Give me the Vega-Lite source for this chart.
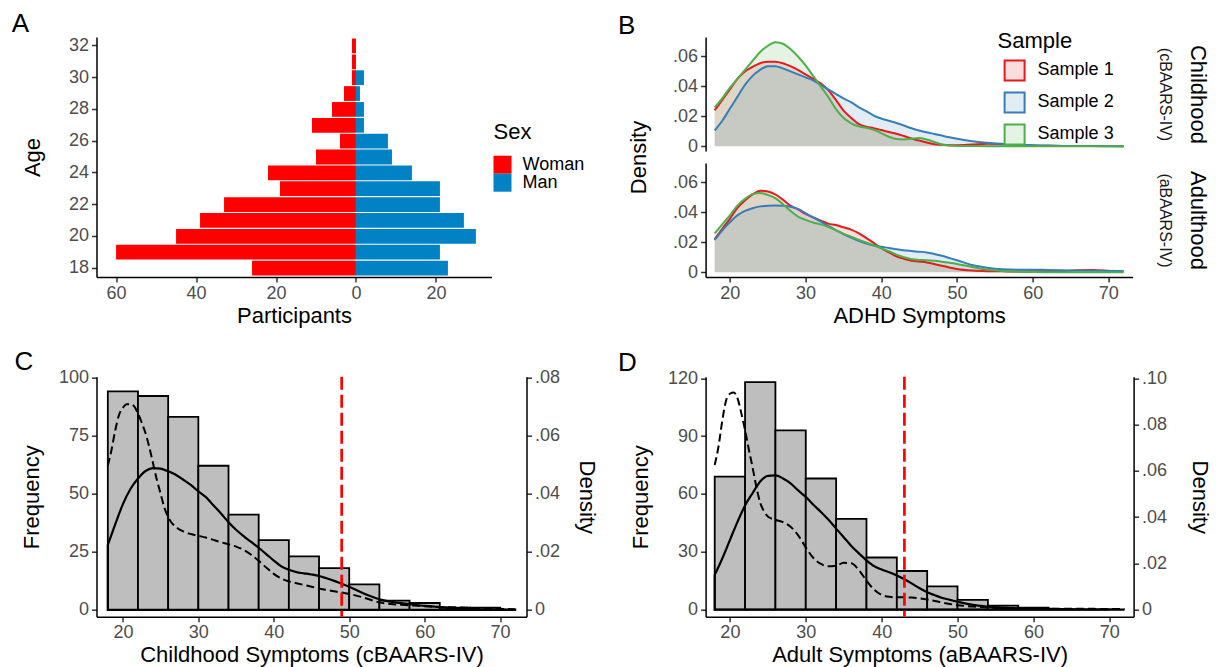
{
"$schema": "https://vega.github.io/schema/vega-lite/v6.json",
"padding": {"left": 11.5, "top": 11, "right": 5, "bottom": 5},
"config": {
  "font": "Liberation Sans",
  "view": {"stroke": null},
  "axis": {"domainColor": "#000000", "domainWidth": 1.5, "tickColor": "#333333", "tickWidth": 1.5, "tickSize": 5, "labelColor": "#4D4D4D", "labelFontSize": 18, "labelPadding": 3, "titleFontSize": 22, "titleFontWeight": "normal", "titleColor": "#000000", "grid": false, "labelFlush": false, "labelOverlap": false},
  "title": {"fontSize": 26, "fontWeight": "normal", "anchor": "start", "frame": "group", "baseline": "alphabetic", "offset": -1, "color": "#000000"},
  "legend": {"padding": 0, "titleFontWeight": "normal", "titleColor": "#000000", "labelColor": "#000000"}
},
"columns": 2,
"spacing": {"row": 99.7, "column": 179.1},
"bounds": "flush",
"resolve": {"scale": {"color": "independent", "fill": "independent", "stroke": "independent"}, "legend": {"color": "independent", "fill": "independent", "stroke": "independent"}},
"datasets": {
  "pop": [
    {"Age": 18, "Sex": "Woman", "Participants": -26}, {"Age": 19, "Sex": "Woman", "Participants": -60}, {"Age": 20, "Sex": "Woman", "Participants": -45}, {"Age": 21, "Sex": "Woman", "Participants": -39}, {"Age": 22, "Sex": "Woman", "Participants": -33}, {"Age": 23, "Sex": "Woman", "Participants": -19}, {"Age": 24, "Sex": "Woman", "Participants": -22}, {"Age": 25, "Sex": "Woman", "Participants": -10}, {"Age": 26, "Sex": "Woman", "Participants": -4}, {"Age": 27, "Sex": "Woman", "Participants": -11}, {"Age": 28, "Sex": "Woman", "Participants": -6}, {"Age": 29, "Sex": "Woman", "Participants": -3}, {"Age": 30, "Sex": "Woman", "Participants": -1}, {"Age": 31, "Sex": "Woman", "Participants": -1}, {"Age": 32, "Sex": "Woman", "Participants": -1},
    {"Age": 18, "Sex": "Man", "Participants": 23}, {"Age": 19, "Sex": "Man", "Participants": 21}, {"Age": 20, "Sex": "Man", "Participants": 30}, {"Age": 21, "Sex": "Man", "Participants": 27}, {"Age": 22, "Sex": "Man", "Participants": 21}, {"Age": 23, "Sex": "Man", "Participants": 21}, {"Age": 24, "Sex": "Man", "Participants": 14}, {"Age": 25, "Sex": "Man", "Participants": 9}, {"Age": 26, "Sex": "Man", "Participants": 8}, {"Age": 27, "Sex": "Man", "Participants": 2}, {"Age": 28, "Sex": "Man", "Participants": 2}, {"Age": 29, "Sex": "Man", "Participants": 1}, {"Age": 30, "Sex": "Man", "Participants": 2}, {"Age": 31, "Sex": "Man", "Participants": 0}, {"Age": 32, "Sex": "Man", "Participants": 0}
  ],
  "histC": [
    {"BinStart": 18, "BinEnd": 22, "Count": 94}, {"BinStart": 22, "BinEnd": 26, "Count": 92}, {"BinStart": 26, "BinEnd": 30, "Count": 83}, {"BinStart": 30, "BinEnd": 34, "Count": 62}, {"BinStart": 34, "BinEnd": 38, "Count": 41}, {"BinStart": 38, "BinEnd": 42, "Count": 30}, {"BinStart": 42, "BinEnd": 46, "Count": 23}, {"BinStart": 46, "BinEnd": 50, "Count": 18}, {"BinStart": 50, "BinEnd": 54, "Count": 11}, {"BinStart": 54, "BinEnd": 58, "Count": 4}, {"BinStart": 58, "BinEnd": 62, "Count": 3}, {"BinStart": 62, "BinEnd": 66, "Count": 1}, {"BinStart": 66, "BinEnd": 70, "Count": 1}
  ],
  "histD": [
    {"BinStart": 18, "BinEnd": 22, "Count": 69}, {"BinStart": 22, "BinEnd": 26, "Count": 118}, {"BinStart": 26, "BinEnd": 30, "Count": 93}, {"BinStart": 30, "BinEnd": 34, "Count": 68}, {"BinStart": 34, "BinEnd": 38, "Count": 47}, {"BinStart": 38, "BinEnd": 42, "Count": 27}, {"BinStart": 42, "BinEnd": 46, "Count": 20}, {"BinStart": 46, "BinEnd": 50, "Count": 12}, {"BinStart": 50, "BinEnd": 54, "Count": 5}, {"BinStart": 54, "BinEnd": 58, "Count": 2}, {"BinStart": 58, "BinEnd": 62, "Count": 1}, {"BinStart": 62, "BinEnd": 66, "Count": 0}, {"BinStart": 66, "BinEnd": 70, "Count": 0}
  ],
  "densC": [
    {"Curve": "Solid", "Symptoms": 18, "Density": 0.0224}, {"Curve": "Solid", "Symptoms": 19, "Density": 0.0296}, {"Curve": "Solid", "Symptoms": 20, "Density": 0.0364}, {"Curve": "Solid", "Symptoms": 21, "Density": 0.0416}, {"Curve": "Solid", "Symptoms": 22, "Density": 0.0452}, {"Curve": "Solid", "Symptoms": 23, "Density": 0.0478}, {"Curve": "Solid", "Symptoms": 24, "Density": 0.0488}, {"Curve": "Solid", "Symptoms": 25, "Density": 0.0486}, {"Curve": "Solid", "Symptoms": 26, "Density": 0.0477}, {"Curve": "Solid", "Symptoms": 27, "Density": 0.0465}, {"Curve": "Solid", "Symptoms": 28, "Density": 0.0448}, {"Curve": "Solid", "Symptoms": 29, "Density": 0.043}, {"Curve": "Solid", "Symptoms": 30, "Density": 0.0408}, {"Curve": "Solid", "Symptoms": 31, "Density": 0.0388}, {"Curve": "Solid", "Symptoms": 32, "Density": 0.036}, {"Curve": "Solid", "Symptoms": 33, "Density": 0.0332}, {"Curve": "Solid", "Symptoms": 34, "Density": 0.0302}, {"Curve": "Solid", "Symptoms": 35, "Density": 0.0276}, {"Curve": "Solid", "Symptoms": 36, "Density": 0.0254}, {"Curve": "Solid", "Symptoms": 37, "Density": 0.0234}, {"Curve": "Solid", "Symptoms": 38, "Density": 0.0214}, {"Curve": "Solid", "Symptoms": 39, "Density": 0.0192}, {"Curve": "Solid", "Symptoms": 40, "Density": 0.017}, {"Curve": "Solid", "Symptoms": 41, "Density": 0.015}, {"Curve": "Solid", "Symptoms": 42, "Density": 0.0138}, {"Curve": "Solid", "Symptoms": 43, "Density": 0.013}, {"Curve": "Solid", "Symptoms": 44, "Density": 0.0126}, {"Curve": "Solid", "Symptoms": 45, "Density": 0.0122}, {"Curve": "Solid", "Symptoms": 46, "Density": 0.0117}, {"Curve": "Solid", "Symptoms": 47, "Density": 0.0109}, {"Curve": "Solid", "Symptoms": 48, "Density": 0.01}, {"Curve": "Solid", "Symptoms": 49, "Density": 0.009}, {"Curve": "Solid", "Symptoms": 50, "Density": 0.008}, {"Curve": "Solid", "Symptoms": 52, "Density": 0.0056}, {"Curve": "Solid", "Symptoms": 54, "Density": 0.0037}, {"Curve": "Solid", "Symptoms": 56, "Density": 0.0026}, {"Curve": "Solid", "Symptoms": 58, "Density": 0.002}, {"Curve": "Solid", "Symptoms": 60, "Density": 0.0014}, {"Curve": "Solid", "Symptoms": 62, "Density": 0.001}, {"Curve": "Solid", "Symptoms": 64, "Density": 0.0006}, {"Curve": "Solid", "Symptoms": 66, "Density": 0.0004}, {"Curve": "Solid", "Symptoms": 68, "Density": 0.0002}, {"Curve": "Solid", "Symptoms": 70, "Density": 0.0002}, {"Curve": "Solid", "Symptoms": 72, "Density": 0.0001},
    {"Curve": "Dashed", "Symptoms": 18, "Density": 0.0496}, {"Curve": "Dashed", "Symptoms": 18.5, "Density": 0.0552}, {"Curve": "Dashed", "Symptoms": 19, "Density": 0.062}, {"Curve": "Dashed", "Symptoms": 19.5, "Density": 0.0672}, {"Curve": "Dashed", "Symptoms": 20, "Density": 0.0696}, {"Curve": "Dashed", "Symptoms": 20.5, "Density": 0.0708}, {"Curve": "Dashed", "Symptoms": 21, "Density": 0.0708}, {"Curve": "Dashed", "Symptoms": 21.5, "Density": 0.07}, {"Curve": "Dashed", "Symptoms": 22, "Density": 0.0676}, {"Curve": "Dashed", "Symptoms": 22.5, "Density": 0.0644}, {"Curve": "Dashed", "Symptoms": 23, "Density": 0.0608}, {"Curve": "Dashed", "Symptoms": 23.5, "Density": 0.056}, {"Curve": "Dashed", "Symptoms": 24, "Density": 0.0504}, {"Curve": "Dashed", "Symptoms": 24.5, "Density": 0.0448}, {"Curve": "Dashed", "Symptoms": 25, "Density": 0.04}, {"Curve": "Dashed", "Symptoms": 25.5, "Density": 0.0352}, {"Curve": "Dashed", "Symptoms": 26, "Density": 0.032}, {"Curve": "Dashed", "Symptoms": 26.5, "Density": 0.0299}, {"Curve": "Dashed", "Symptoms": 27, "Density": 0.0286}, {"Curve": "Dashed", "Symptoms": 28, "Density": 0.027}, {"Curve": "Dashed", "Symptoms": 29, "Density": 0.0261}, {"Curve": "Dashed", "Symptoms": 30, "Density": 0.0255}, {"Curve": "Dashed", "Symptoms": 31, "Density": 0.0249}, {"Curve": "Dashed", "Symptoms": 32, "Density": 0.0241}, {"Curve": "Dashed", "Symptoms": 33, "Density": 0.0233}, {"Curve": "Dashed", "Symptoms": 34, "Density": 0.0226}, {"Curve": "Dashed", "Symptoms": 35, "Density": 0.0218}, {"Curve": "Dashed", "Symptoms": 36, "Density": 0.0207}, {"Curve": "Dashed", "Symptoms": 37, "Density": 0.019}, {"Curve": "Dashed", "Symptoms": 38, "Density": 0.0169}, {"Curve": "Dashed", "Symptoms": 39, "Density": 0.0146}, {"Curve": "Dashed", "Symptoms": 40, "Density": 0.0124}, {"Curve": "Dashed", "Symptoms": 41, "Density": 0.0108}, {"Curve": "Dashed", "Symptoms": 42, "Density": 0.0098}, {"Curve": "Dashed", "Symptoms": 43, "Density": 0.0092}, {"Curve": "Dashed", "Symptoms": 44, "Density": 0.0086}, {"Curve": "Dashed", "Symptoms": 45, "Density": 0.008}, {"Curve": "Dashed", "Symptoms": 46, "Density": 0.0074}, {"Curve": "Dashed", "Symptoms": 47, "Density": 0.0069}, {"Curve": "Dashed", "Symptoms": 48, "Density": 0.0064}, {"Curve": "Dashed", "Symptoms": 49, "Density": 0.006}, {"Curve": "Dashed", "Symptoms": 50, "Density": 0.0055}, {"Curve": "Dashed", "Symptoms": 52, "Density": 0.0042}, {"Curve": "Dashed", "Symptoms": 54, "Density": 0.0026}, {"Curve": "Dashed", "Symptoms": 56, "Density": 0.0019}, {"Curve": "Dashed", "Symptoms": 58, "Density": 0.0016}, {"Curve": "Dashed", "Symptoms": 60, "Density": 0.0013}, {"Curve": "Dashed", "Symptoms": 62, "Density": 0.001}, {"Curve": "Dashed", "Symptoms": 64, "Density": 0.0009}, {"Curve": "Dashed", "Symptoms": 66, "Density": 0.0007}, {"Curve": "Dashed", "Symptoms": 68, "Density": 0.0006}, {"Curve": "Dashed", "Symptoms": 70, "Density": 0.0004}, {"Curve": "Dashed", "Symptoms": 72, "Density": 0.0002}
  ],
  "densD": [
    {"Curve": "Solid", "Symptoms": 18, "Density": 0.015}, {"Curve": "Solid", "Symptoms": 19, "Density": 0.0221}, {"Curve": "Solid", "Symptoms": 20, "Density": 0.03}, {"Curve": "Solid", "Symptoms": 21, "Density": 0.0379}, {"Curve": "Solid", "Symptoms": 22, "Density": 0.045}, {"Curve": "Solid", "Symptoms": 23, "Density": 0.0504}, {"Curve": "Solid", "Symptoms": 24, "Density": 0.0554}, {"Curve": "Solid", "Symptoms": 25, "Density": 0.0578}, {"Curve": "Solid", "Symptoms": 26, "Density": 0.058}, {"Curve": "Solid", "Symptoms": 27, "Density": 0.0567}, {"Curve": "Solid", "Symptoms": 28, "Density": 0.0546}, {"Curve": "Solid", "Symptoms": 29, "Density": 0.0515}, {"Curve": "Solid", "Symptoms": 30, "Density": 0.0487}, {"Curve": "Solid", "Symptoms": 31, "Density": 0.0453}, {"Curve": "Solid", "Symptoms": 32, "Density": 0.0422}, {"Curve": "Solid", "Symptoms": 33, "Density": 0.0388}, {"Curve": "Solid", "Symptoms": 34, "Density": 0.035}, {"Curve": "Solid", "Symptoms": 35, "Density": 0.0313}, {"Curve": "Solid", "Symptoms": 36, "Density": 0.0275}, {"Curve": "Solid", "Symptoms": 37, "Density": 0.0243}, {"Curve": "Solid", "Symptoms": 38, "Density": 0.0213}, {"Curve": "Solid", "Symptoms": 39, "Density": 0.0188}, {"Curve": "Solid", "Symptoms": 40, "Density": 0.0173}, {"Curve": "Solid", "Symptoms": 41, "Density": 0.0161}, {"Curve": "Solid", "Symptoms": 42, "Density": 0.0147}, {"Curve": "Solid", "Symptoms": 43, "Density": 0.0131}, {"Curve": "Solid", "Symptoms": 44, "Density": 0.0112}, {"Curve": "Solid", "Symptoms": 45, "Density": 0.0092}, {"Curve": "Solid", "Symptoms": 46, "Density": 0.0075}, {"Curve": "Solid", "Symptoms": 47, "Density": 0.0062}, {"Curve": "Solid", "Symptoms": 48, "Density": 0.005}, {"Curve": "Solid", "Symptoms": 49, "Density": 0.0042}, {"Curve": "Solid", "Symptoms": 50, "Density": 0.0034}, {"Curve": "Solid", "Symptoms": 52, "Density": 0.002}, {"Curve": "Solid", "Symptoms": 54, "Density": 0.0013}, {"Curve": "Solid", "Symptoms": 56, "Density": 0.0008}, {"Curve": "Solid", "Symptoms": 58, "Density": 0.0005}, {"Curve": "Solid", "Symptoms": 60, "Density": 0.0003}, {"Curve": "Solid", "Symptoms": 62, "Density": 0.0003}, {"Curve": "Solid", "Symptoms": 64, "Density": 0.0002}, {"Curve": "Solid", "Symptoms": 66, "Density": 0.0001}, {"Curve": "Solid", "Symptoms": 68, "Density": 0.0001}, {"Curve": "Solid", "Symptoms": 70, "Density": 0.0001}, {"Curve": "Solid", "Symptoms": 72, "Density": 0},
    {"Curve": "Dashed", "Symptoms": 18, "Density": 0.0625}, {"Curve": "Dashed", "Symptoms": 18.5, "Density": 0.0705}, {"Curve": "Dashed", "Symptoms": 19, "Density": 0.0817}, {"Curve": "Dashed", "Symptoms": 19.5, "Density": 0.0904}, {"Curve": "Dashed", "Symptoms": 20, "Density": 0.0933}, {"Curve": "Dashed", "Symptoms": 20.5, "Density": 0.0938}, {"Curve": "Dashed", "Symptoms": 21, "Density": 0.0914}, {"Curve": "Dashed", "Symptoms": 21.5, "Density": 0.085}, {"Curve": "Dashed", "Symptoms": 22, "Density": 0.0775}, {"Curve": "Dashed", "Symptoms": 22.5, "Density": 0.0692}, {"Curve": "Dashed", "Symptoms": 23, "Density": 0.0613}, {"Curve": "Dashed", "Symptoms": 23.5, "Density": 0.0529}, {"Curve": "Dashed", "Symptoms": 24, "Density": 0.0461}, {"Curve": "Dashed", "Symptoms": 24.5, "Density": 0.0425}, {"Curve": "Dashed", "Symptoms": 25, "Density": 0.0402}, {"Curve": "Dashed", "Symptoms": 26, "Density": 0.0388}, {"Curve": "Dashed", "Symptoms": 27, "Density": 0.0378}, {"Curve": "Dashed", "Symptoms": 28, "Density": 0.0358}, {"Curve": "Dashed", "Symptoms": 29, "Density": 0.0321}, {"Curve": "Dashed", "Symptoms": 30, "Density": 0.0269}, {"Curve": "Dashed", "Symptoms": 31, "Density": 0.0223}, {"Curve": "Dashed", "Symptoms": 32, "Density": 0.0197}, {"Curve": "Dashed", "Symptoms": 33, "Density": 0.0187}, {"Curve": "Dashed", "Symptoms": 34, "Density": 0.019}, {"Curve": "Dashed", "Symptoms": 35, "Density": 0.0202}, {"Curve": "Dashed", "Symptoms": 36, "Density": 0.02}, {"Curve": "Dashed", "Symptoms": 37, "Density": 0.0171}, {"Curve": "Dashed", "Symptoms": 38, "Density": 0.0125}, {"Curve": "Dashed", "Symptoms": 39, "Density": 0.0086}, {"Curve": "Dashed", "Symptoms": 40, "Density": 0.0063}, {"Curve": "Dashed", "Symptoms": 41, "Density": 0.0055}, {"Curve": "Dashed", "Symptoms": 42, "Density": 0.0053}, {"Curve": "Dashed", "Symptoms": 43, "Density": 0.0053}, {"Curve": "Dashed", "Symptoms": 44, "Density": 0.0052}, {"Curve": "Dashed", "Symptoms": 45, "Density": 0.0048}, {"Curve": "Dashed", "Symptoms": 46, "Density": 0.0043}, {"Curve": "Dashed", "Symptoms": 47, "Density": 0.0037}, {"Curve": "Dashed", "Symptoms": 48, "Density": 0.003}, {"Curve": "Dashed", "Symptoms": 49, "Density": 0.0024}, {"Curve": "Dashed", "Symptoms": 50, "Density": 0.0019}, {"Curve": "Dashed", "Symptoms": 52, "Density": 0.0013}, {"Curve": "Dashed", "Symptoms": 54, "Density": 0.0009}, {"Curve": "Dashed", "Symptoms": 56, "Density": 0.0008}, {"Curve": "Dashed", "Symptoms": 58, "Density": 0.0006}, {"Curve": "Dashed", "Symptoms": 60, "Density": 0.0005}, {"Curve": "Dashed", "Symptoms": 62, "Density": 0.0004}, {"Curve": "Dashed", "Symptoms": 64, "Density": 0.0003}, {"Curve": "Dashed", "Symptoms": 66, "Density": 0.0003}, {"Curve": "Dashed", "Symptoms": 68, "Density": 0.0003}, {"Curve": "Dashed", "Symptoms": 70, "Density": 0.0002}, {"Curve": "Dashed", "Symptoms": 72, "Density": 0.0002}
  ],
  "densB": [
    {"Period": "Childhood", "Sample": "Sample 1", "Symptoms": 18, "Density": 0.024}, {"Period": "Childhood", "Sample": "Sample 1", "Symptoms": 19, "Density": 0.031}, {"Period": "Childhood", "Sample": "Sample 1", "Symptoms": 20, "Density": 0.038}, {"Period": "Childhood", "Sample": "Sample 1", "Symptoms": 21, "Density": 0.045}, {"Period": "Childhood", "Sample": "Sample 1", "Symptoms": 22, "Density": 0.05}, {"Period": "Childhood", "Sample": "Sample 1", "Symptoms": 23, "Density": 0.053}, {"Period": "Childhood", "Sample": "Sample 1", "Symptoms": 24, "Density": 0.0555}, {"Period": "Childhood", "Sample": "Sample 1", "Symptoms": 25, "Density": 0.0565}, {"Period": "Childhood", "Sample": "Sample 1", "Symptoms": 26, "Density": 0.0565}, {"Period": "Childhood", "Sample": "Sample 1", "Symptoms": 27, "Density": 0.0555}, {"Period": "Childhood", "Sample": "Sample 1", "Symptoms": 28, "Density": 0.0535}, {"Period": "Childhood", "Sample": "Sample 1", "Symptoms": 29, "Density": 0.051}, {"Period": "Childhood", "Sample": "Sample 1", "Symptoms": 30, "Density": 0.048}, {"Period": "Childhood", "Sample": "Sample 1", "Symptoms": 31, "Density": 0.045}, {"Period": "Childhood", "Sample": "Sample 1", "Symptoms": 32, "Density": 0.042}, {"Period": "Childhood", "Sample": "Sample 1", "Symptoms": 33, "Density": 0.0375}, {"Period": "Childhood", "Sample": "Sample 1", "Symptoms": 34, "Density": 0.031}, {"Period": "Childhood", "Sample": "Sample 1", "Symptoms": 35, "Density": 0.024}, {"Period": "Childhood", "Sample": "Sample 1", "Symptoms": 36, "Density": 0.019}, {"Period": "Childhood", "Sample": "Sample 1", "Symptoms": 37, "Density": 0.015}, {"Period": "Childhood", "Sample": "Sample 1", "Symptoms": 38, "Density": 0.013}, {"Period": "Childhood", "Sample": "Sample 1", "Symptoms": 39, "Density": 0.0121}, {"Period": "Childhood", "Sample": "Sample 1", "Symptoms": 40, "Density": 0.0108}, {"Period": "Childhood", "Sample": "Sample 1", "Symptoms": 41, "Density": 0.0095}, {"Period": "Childhood", "Sample": "Sample 1", "Symptoms": 42, "Density": 0.0083}, {"Period": "Childhood", "Sample": "Sample 1", "Symptoms": 43, "Density": 0.0068}, {"Period": "Childhood", "Sample": "Sample 1", "Symptoms": 44, "Density": 0.0052}, {"Period": "Childhood", "Sample": "Sample 1", "Symptoms": 45, "Density": 0.0038}, {"Period": "Childhood", "Sample": "Sample 1", "Symptoms": 46, "Density": 0.0025}, {"Period": "Childhood", "Sample": "Sample 1", "Symptoms": 47, "Density": 0.0013}, {"Period": "Childhood", "Sample": "Sample 1", "Symptoms": 48, "Density": 0.0009}, {"Period": "Childhood", "Sample": "Sample 1", "Symptoms": 49, "Density": 0.0007}, {"Period": "Childhood", "Sample": "Sample 1", "Symptoms": 50, "Density": 0.0007}, {"Period": "Childhood", "Sample": "Sample 1", "Symptoms": 52, "Density": 0.0011}, {"Period": "Childhood", "Sample": "Sample 1", "Symptoms": 54, "Density": 0.0016}, {"Period": "Childhood", "Sample": "Sample 1", "Symptoms": 56, "Density": 0.0015}, {"Period": "Childhood", "Sample": "Sample 1", "Symptoms": 58, "Density": 0.001}, {"Period": "Childhood", "Sample": "Sample 1", "Symptoms": 60, "Density": 0.0005}, {"Period": "Childhood", "Sample": "Sample 1", "Symptoms": 62, "Density": 0.0003}, {"Period": "Childhood", "Sample": "Sample 1", "Symptoms": 64, "Density": 0.0002}, {"Period": "Childhood", "Sample": "Sample 1", "Symptoms": 66, "Density": 0.0001}, {"Period": "Childhood", "Sample": "Sample 1", "Symptoms": 68, "Density": 0.0001}, {"Period": "Childhood", "Sample": "Sample 1", "Symptoms": 70, "Density": 0.0001}, {"Period": "Childhood", "Sample": "Sample 1", "Symptoms": 72, "Density": 0},
    {"Period": "Childhood", "Sample": "Sample 2", "Symptoms": 18, "Density": 0.0105}, {"Period": "Childhood", "Sample": "Sample 2", "Symptoms": 19, "Density": 0.017}, {"Period": "Childhood", "Sample": "Sample 2", "Symptoms": 20, "Density": 0.025}, {"Period": "Childhood", "Sample": "Sample 2", "Symptoms": 21, "Density": 0.033}, {"Period": "Childhood", "Sample": "Sample 2", "Symptoms": 22, "Density": 0.041}, {"Period": "Childhood", "Sample": "Sample 2", "Symptoms": 23, "Density": 0.047}, {"Period": "Childhood", "Sample": "Sample 2", "Symptoms": 24, "Density": 0.051}, {"Period": "Childhood", "Sample": "Sample 2", "Symptoms": 25, "Density": 0.0535}, {"Period": "Childhood", "Sample": "Sample 2", "Symptoms": 26, "Density": 0.0535}, {"Period": "Childhood", "Sample": "Sample 2", "Symptoms": 27, "Density": 0.052}, {"Period": "Childhood", "Sample": "Sample 2", "Symptoms": 28, "Density": 0.05}, {"Period": "Childhood", "Sample": "Sample 2", "Symptoms": 29, "Density": 0.048}, {"Period": "Childhood", "Sample": "Sample 2", "Symptoms": 30, "Density": 0.046}, {"Period": "Childhood", "Sample": "Sample 2", "Symptoms": 31, "Density": 0.044}, {"Period": "Childhood", "Sample": "Sample 2", "Symptoms": 32, "Density": 0.041}, {"Period": "Childhood", "Sample": "Sample 2", "Symptoms": 33, "Density": 0.038}, {"Period": "Childhood", "Sample": "Sample 2", "Symptoms": 34, "Density": 0.035}, {"Period": "Childhood", "Sample": "Sample 2", "Symptoms": 35, "Density": 0.032}, {"Period": "Childhood", "Sample": "Sample 2", "Symptoms": 36, "Density": 0.0295}, {"Period": "Childhood", "Sample": "Sample 2", "Symptoms": 37, "Density": 0.0262}, {"Period": "Childhood", "Sample": "Sample 2", "Symptoms": 38, "Density": 0.0235}, {"Period": "Childhood", "Sample": "Sample 2", "Symptoms": 39, "Density": 0.0205}, {"Period": "Childhood", "Sample": "Sample 2", "Symptoms": 40, "Density": 0.0185}, {"Period": "Childhood", "Sample": "Sample 2", "Symptoms": 41, "Density": 0.017}, {"Period": "Childhood", "Sample": "Sample 2", "Symptoms": 42, "Density": 0.0155}, {"Period": "Childhood", "Sample": "Sample 2", "Symptoms": 43, "Density": 0.0138}, {"Period": "Childhood", "Sample": "Sample 2", "Symptoms": 44, "Density": 0.012}, {"Period": "Childhood", "Sample": "Sample 2", "Symptoms": 45, "Density": 0.0105}, {"Period": "Childhood", "Sample": "Sample 2", "Symptoms": 46, "Density": 0.0093}, {"Period": "Childhood", "Sample": "Sample 2", "Symptoms": 47, "Density": 0.0082}, {"Period": "Childhood", "Sample": "Sample 2", "Symptoms": 48, "Density": 0.0071}, {"Period": "Childhood", "Sample": "Sample 2", "Symptoms": 49, "Density": 0.006}, {"Period": "Childhood", "Sample": "Sample 2", "Symptoms": 50, "Density": 0.005}, {"Period": "Childhood", "Sample": "Sample 2", "Symptoms": 52, "Density": 0.0033}, {"Period": "Childhood", "Sample": "Sample 2", "Symptoms": 54, "Density": 0.0023}, {"Period": "Childhood", "Sample": "Sample 2", "Symptoms": 56, "Density": 0.0016}, {"Period": "Childhood", "Sample": "Sample 2", "Symptoms": 58, "Density": 0.001}, {"Period": "Childhood", "Sample": "Sample 2", "Symptoms": 60, "Density": 0.0007}, {"Period": "Childhood", "Sample": "Sample 2", "Symptoms": 62, "Density": 0.0004}, {"Period": "Childhood", "Sample": "Sample 2", "Symptoms": 64, "Density": 0.0002}, {"Period": "Childhood", "Sample": "Sample 2", "Symptoms": 66, "Density": 0.0001}, {"Period": "Childhood", "Sample": "Sample 2", "Symptoms": 68, "Density": 0.0001}, {"Period": "Childhood", "Sample": "Sample 2", "Symptoms": 70, "Density": 0}, {"Period": "Childhood", "Sample": "Sample 2", "Symptoms": 72, "Density": 0},
    {"Period": "Childhood", "Sample": "Sample 3", "Symptoms": 18, "Density": 0.026}, {"Period": "Childhood", "Sample": "Sample 3", "Symptoms": 19, "Density": 0.032}, {"Period": "Childhood", "Sample": "Sample 3", "Symptoms": 20, "Density": 0.039}, {"Period": "Childhood", "Sample": "Sample 3", "Symptoms": 21, "Density": 0.045}, {"Period": "Childhood", "Sample": "Sample 3", "Symptoms": 22, "Density": 0.051}, {"Period": "Childhood", "Sample": "Sample 3", "Symptoms": 23, "Density": 0.057}, {"Period": "Childhood", "Sample": "Sample 3", "Symptoms": 24, "Density": 0.063}, {"Period": "Childhood", "Sample": "Sample 3", "Symptoms": 25, "Density": 0.067}, {"Period": "Childhood", "Sample": "Sample 3", "Symptoms": 26, "Density": 0.0695}, {"Period": "Childhood", "Sample": "Sample 3", "Symptoms": 27, "Density": 0.0685}, {"Period": "Childhood", "Sample": "Sample 3", "Symptoms": 28, "Density": 0.065}, {"Period": "Childhood", "Sample": "Sample 3", "Symptoms": 29, "Density": 0.06}, {"Period": "Childhood", "Sample": "Sample 3", "Symptoms": 30, "Density": 0.054}, {"Period": "Childhood", "Sample": "Sample 3", "Symptoms": 31, "Density": 0.047}, {"Period": "Childhood", "Sample": "Sample 3", "Symptoms": 32, "Density": 0.04}, {"Period": "Childhood", "Sample": "Sample 3", "Symptoms": 33, "Density": 0.033}, {"Period": "Childhood", "Sample": "Sample 3", "Symptoms": 34, "Density": 0.025}, {"Period": "Childhood", "Sample": "Sample 3", "Symptoms": 35, "Density": 0.019}, {"Period": "Childhood", "Sample": "Sample 3", "Symptoms": 36, "Density": 0.0155}, {"Period": "Childhood", "Sample": "Sample 3", "Symptoms": 37, "Density": 0.0133}, {"Period": "Childhood", "Sample": "Sample 3", "Symptoms": 38, "Density": 0.0124}, {"Period": "Childhood", "Sample": "Sample 3", "Symptoms": 39, "Density": 0.011}, {"Period": "Childhood", "Sample": "Sample 3", "Symptoms": 40, "Density": 0.0088}, {"Period": "Childhood", "Sample": "Sample 3", "Symptoms": 41, "Density": 0.0063}, {"Period": "Childhood", "Sample": "Sample 3", "Symptoms": 42, "Density": 0.0048}, {"Period": "Childhood", "Sample": "Sample 3", "Symptoms": 43, "Density": 0.0045}, {"Period": "Childhood", "Sample": "Sample 3", "Symptoms": 44, "Density": 0.005}, {"Period": "Childhood", "Sample": "Sample 3", "Symptoms": 45, "Density": 0.0055}, {"Period": "Childhood", "Sample": "Sample 3", "Symptoms": 46, "Density": 0.0045}, {"Period": "Childhood", "Sample": "Sample 3", "Symptoms": 47, "Density": 0.0028}, {"Period": "Childhood", "Sample": "Sample 3", "Symptoms": 48, "Density": 0.0012}, {"Period": "Childhood", "Sample": "Sample 3", "Symptoms": 49, "Density": 0.0005}, {"Period": "Childhood", "Sample": "Sample 3", "Symptoms": 50, "Density": 0.0002}, {"Period": "Childhood", "Sample": "Sample 3", "Symptoms": 52, "Density": 0.0001}, {"Period": "Childhood", "Sample": "Sample 3", "Symptoms": 54, "Density": 0}, {"Period": "Childhood", "Sample": "Sample 3", "Symptoms": 56, "Density": 0}, {"Period": "Childhood", "Sample": "Sample 3", "Symptoms": 58, "Density": 0}, {"Period": "Childhood", "Sample": "Sample 3", "Symptoms": 60, "Density": 0}, {"Period": "Childhood", "Sample": "Sample 3", "Symptoms": 62, "Density": 0}, {"Period": "Childhood", "Sample": "Sample 3", "Symptoms": 64, "Density": 0}, {"Period": "Childhood", "Sample": "Sample 3", "Symptoms": 66, "Density": 0}, {"Period": "Childhood", "Sample": "Sample 3", "Symptoms": 68, "Density": 0}, {"Period": "Childhood", "Sample": "Sample 3", "Symptoms": 70, "Density": 0}, {"Period": "Childhood", "Sample": "Sample 3", "Symptoms": 72, "Density": 0},
    {"Period": "Adulthood", "Sample": "Sample 1", "Symptoms": 18, "Density": 0.0221}, {"Period": "Adulthood", "Sample": "Sample 1", "Symptoms": 19, "Density": 0.029}, {"Period": "Adulthood", "Sample": "Sample 1", "Symptoms": 20, "Density": 0.0357}, {"Period": "Adulthood", "Sample": "Sample 1", "Symptoms": 21, "Density": 0.043}, {"Period": "Adulthood", "Sample": "Sample 1", "Symptoms": 22, "Density": 0.048}, {"Period": "Adulthood", "Sample": "Sample 1", "Symptoms": 23, "Density": 0.052}, {"Period": "Adulthood", "Sample": "Sample 1", "Symptoms": 24, "Density": 0.0545}, {"Period": "Adulthood", "Sample": "Sample 1", "Symptoms": 25, "Density": 0.054}, {"Period": "Adulthood", "Sample": "Sample 1", "Symptoms": 26, "Density": 0.052}, {"Period": "Adulthood", "Sample": "Sample 1", "Symptoms": 27, "Density": 0.0485}, {"Period": "Adulthood", "Sample": "Sample 1", "Symptoms": 28, "Density": 0.0445}, {"Period": "Adulthood", "Sample": "Sample 1", "Symptoms": 29, "Density": 0.042}, {"Period": "Adulthood", "Sample": "Sample 1", "Symptoms": 30, "Density": 0.039}, {"Period": "Adulthood", "Sample": "Sample 1", "Symptoms": 31, "Density": 0.0366}, {"Period": "Adulthood", "Sample": "Sample 1", "Symptoms": 32, "Density": 0.0345}, {"Period": "Adulthood", "Sample": "Sample 1", "Symptoms": 33, "Density": 0.0325}, {"Period": "Adulthood", "Sample": "Sample 1", "Symptoms": 34, "Density": 0.0315}, {"Period": "Adulthood", "Sample": "Sample 1", "Symptoms": 35, "Density": 0.03}, {"Period": "Adulthood", "Sample": "Sample 1", "Symptoms": 36, "Density": 0.0285}, {"Period": "Adulthood", "Sample": "Sample 1", "Symptoms": 37, "Density": 0.0262}, {"Period": "Adulthood", "Sample": "Sample 1", "Symptoms": 38, "Density": 0.023}, {"Period": "Adulthood", "Sample": "Sample 1", "Symptoms": 39, "Density": 0.0196}, {"Period": "Adulthood", "Sample": "Sample 1", "Symptoms": 40, "Density": 0.016}, {"Period": "Adulthood", "Sample": "Sample 1", "Symptoms": 41, "Density": 0.0133}, {"Period": "Adulthood", "Sample": "Sample 1", "Symptoms": 42, "Density": 0.0106}, {"Period": "Adulthood", "Sample": "Sample 1", "Symptoms": 43, "Density": 0.009}, {"Period": "Adulthood", "Sample": "Sample 1", "Symptoms": 44, "Density": 0.0077}, {"Period": "Adulthood", "Sample": "Sample 1", "Symptoms": 45, "Density": 0.0071}, {"Period": "Adulthood", "Sample": "Sample 1", "Symptoms": 46, "Density": 0.0065}, {"Period": "Adulthood", "Sample": "Sample 1", "Symptoms": 47, "Density": 0.0055}, {"Period": "Adulthood", "Sample": "Sample 1", "Symptoms": 48, "Density": 0.0043}, {"Period": "Adulthood", "Sample": "Sample 1", "Symptoms": 49, "Density": 0.0032}, {"Period": "Adulthood", "Sample": "Sample 1", "Symptoms": 50, "Density": 0.0022}, {"Period": "Adulthood", "Sample": "Sample 1", "Symptoms": 52, "Density": 0.0011}, {"Period": "Adulthood", "Sample": "Sample 1", "Symptoms": 54, "Density": 0.0007}, {"Period": "Adulthood", "Sample": "Sample 1", "Symptoms": 56, "Density": 0.0006}, {"Period": "Adulthood", "Sample": "Sample 1", "Symptoms": 58, "Density": 0.0005}, {"Period": "Adulthood", "Sample": "Sample 1", "Symptoms": 60, "Density": 0.0006}, {"Period": "Adulthood", "Sample": "Sample 1", "Symptoms": 62, "Density": 0.0006}, {"Period": "Adulthood", "Sample": "Sample 1", "Symptoms": 64, "Density": 0.0008}, {"Period": "Adulthood", "Sample": "Sample 1", "Symptoms": 66, "Density": 0.0013}, {"Period": "Adulthood", "Sample": "Sample 1", "Symptoms": 68, "Density": 0.0014}, {"Period": "Adulthood", "Sample": "Sample 1", "Symptoms": 70, "Density": 0.0008}, {"Period": "Adulthood", "Sample": "Sample 1", "Symptoms": 72, "Density": 0.0004},
    {"Period": "Adulthood", "Sample": "Sample 2", "Symptoms": 18, "Density": 0.0215}, {"Period": "Adulthood", "Sample": "Sample 2", "Symptoms": 19, "Density": 0.028}, {"Period": "Adulthood", "Sample": "Sample 2", "Symptoms": 20, "Density": 0.0334}, {"Period": "Adulthood", "Sample": "Sample 2", "Symptoms": 21, "Density": 0.038}, {"Period": "Adulthood", "Sample": "Sample 2", "Symptoms": 22, "Density": 0.041}, {"Period": "Adulthood", "Sample": "Sample 2", "Symptoms": 23, "Density": 0.0428}, {"Period": "Adulthood", "Sample": "Sample 2", "Symptoms": 24, "Density": 0.044}, {"Period": "Adulthood", "Sample": "Sample 2", "Symptoms": 25, "Density": 0.0445}, {"Period": "Adulthood", "Sample": "Sample 2", "Symptoms": 26, "Density": 0.0446}, {"Period": "Adulthood", "Sample": "Sample 2", "Symptoms": 27, "Density": 0.0445}, {"Period": "Adulthood", "Sample": "Sample 2", "Symptoms": 28, "Density": 0.0438}, {"Period": "Adulthood", "Sample": "Sample 2", "Symptoms": 29, "Density": 0.0423}, {"Period": "Adulthood", "Sample": "Sample 2", "Symptoms": 30, "Density": 0.0395}, {"Period": "Adulthood", "Sample": "Sample 2", "Symptoms": 31, "Density": 0.0366}, {"Period": "Adulthood", "Sample": "Sample 2", "Symptoms": 32, "Density": 0.0338}, {"Period": "Adulthood", "Sample": "Sample 2", "Symptoms": 33, "Density": 0.031}, {"Period": "Adulthood", "Sample": "Sample 2", "Symptoms": 34, "Density": 0.0282}, {"Period": "Adulthood", "Sample": "Sample 2", "Symptoms": 35, "Density": 0.0255}, {"Period": "Adulthood", "Sample": "Sample 2", "Symptoms": 36, "Density": 0.0232}, {"Period": "Adulthood", "Sample": "Sample 2", "Symptoms": 37, "Density": 0.021}, {"Period": "Adulthood", "Sample": "Sample 2", "Symptoms": 38, "Density": 0.0192}, {"Period": "Adulthood", "Sample": "Sample 2", "Symptoms": 39, "Density": 0.0179}, {"Period": "Adulthood", "Sample": "Sample 2", "Symptoms": 40, "Density": 0.017}, {"Period": "Adulthood", "Sample": "Sample 2", "Symptoms": 41, "Density": 0.0162}, {"Period": "Adulthood", "Sample": "Sample 2", "Symptoms": 42, "Density": 0.0153}, {"Period": "Adulthood", "Sample": "Sample 2", "Symptoms": 43, "Density": 0.0147}, {"Period": "Adulthood", "Sample": "Sample 2", "Symptoms": 44, "Density": 0.0141}, {"Period": "Adulthood", "Sample": "Sample 2", "Symptoms": 45, "Density": 0.0137}, {"Period": "Adulthood", "Sample": "Sample 2", "Symptoms": 46, "Density": 0.0132}, {"Period": "Adulthood", "Sample": "Sample 2", "Symptoms": 47, "Density": 0.0122}, {"Period": "Adulthood", "Sample": "Sample 2", "Symptoms": 48, "Density": 0.011}, {"Period": "Adulthood", "Sample": "Sample 2", "Symptoms": 49, "Density": 0.0095}, {"Period": "Adulthood", "Sample": "Sample 2", "Symptoms": 50, "Density": 0.008}, {"Period": "Adulthood", "Sample": "Sample 2", "Symptoms": 52, "Density": 0.0048}, {"Period": "Adulthood", "Sample": "Sample 2", "Symptoms": 54, "Density": 0.003}, {"Period": "Adulthood", "Sample": "Sample 2", "Symptoms": 56, "Density": 0.002}, {"Period": "Adulthood", "Sample": "Sample 2", "Symptoms": 58, "Density": 0.0017}, {"Period": "Adulthood", "Sample": "Sample 2", "Symptoms": 60, "Density": 0.0017}, {"Period": "Adulthood", "Sample": "Sample 2", "Symptoms": 62, "Density": 0.0015}, {"Period": "Adulthood", "Sample": "Sample 2", "Symptoms": 64, "Density": 0.0013}, {"Period": "Adulthood", "Sample": "Sample 2", "Symptoms": 66, "Density": 0.0011}, {"Period": "Adulthood", "Sample": "Sample 2", "Symptoms": 68, "Density": 0.001}, {"Period": "Adulthood", "Sample": "Sample 2", "Symptoms": 70, "Density": 0.0009}, {"Period": "Adulthood", "Sample": "Sample 2", "Symptoms": 72, "Density": 0.0008},
    {"Period": "Adulthood", "Sample": "Sample 3", "Symptoms": 18, "Density": 0.026}, {"Period": "Adulthood", "Sample": "Sample 3", "Symptoms": 19, "Density": 0.032}, {"Period": "Adulthood", "Sample": "Sample 3", "Symptoms": 20, "Density": 0.038}, {"Period": "Adulthood", "Sample": "Sample 3", "Symptoms": 21, "Density": 0.0445}, {"Period": "Adulthood", "Sample": "Sample 3", "Symptoms": 22, "Density": 0.049}, {"Period": "Adulthood", "Sample": "Sample 3", "Symptoms": 23, "Density": 0.0522}, {"Period": "Adulthood", "Sample": "Sample 3", "Symptoms": 24, "Density": 0.053}, {"Period": "Adulthood", "Sample": "Sample 3", "Symptoms": 25, "Density": 0.0517}, {"Period": "Adulthood", "Sample": "Sample 3", "Symptoms": 26, "Density": 0.0495}, {"Period": "Adulthood", "Sample": "Sample 3", "Symptoms": 27, "Density": 0.0455}, {"Period": "Adulthood", "Sample": "Sample 3", "Symptoms": 28, "Density": 0.041}, {"Period": "Adulthood", "Sample": "Sample 3", "Symptoms": 29, "Density": 0.0372}, {"Period": "Adulthood", "Sample": "Sample 3", "Symptoms": 30, "Density": 0.035}, {"Period": "Adulthood", "Sample": "Sample 3", "Symptoms": 31, "Density": 0.0332}, {"Period": "Adulthood", "Sample": "Sample 3", "Symptoms": 32, "Density": 0.032}, {"Period": "Adulthood", "Sample": "Sample 3", "Symptoms": 33, "Density": 0.0302}, {"Period": "Adulthood", "Sample": "Sample 3", "Symptoms": 34, "Density": 0.028}, {"Period": "Adulthood", "Sample": "Sample 3", "Symptoms": 35, "Density": 0.0258}, {"Period": "Adulthood", "Sample": "Sample 3", "Symptoms": 36, "Density": 0.0237}, {"Period": "Adulthood", "Sample": "Sample 3", "Symptoms": 37, "Density": 0.0217}, {"Period": "Adulthood", "Sample": "Sample 3", "Symptoms": 38, "Density": 0.0199}, {"Period": "Adulthood", "Sample": "Sample 3", "Symptoms": 39, "Density": 0.018}, {"Period": "Adulthood", "Sample": "Sample 3", "Symptoms": 40, "Density": 0.016}, {"Period": "Adulthood", "Sample": "Sample 3", "Symptoms": 41, "Density": 0.014}, {"Period": "Adulthood", "Sample": "Sample 3", "Symptoms": 42, "Density": 0.0118}, {"Period": "Adulthood", "Sample": "Sample 3", "Symptoms": 43, "Density": 0.0101}, {"Period": "Adulthood", "Sample": "Sample 3", "Symptoms": 44, "Density": 0.0087}, {"Period": "Adulthood", "Sample": "Sample 3", "Symptoms": 45, "Density": 0.0082}, {"Period": "Adulthood", "Sample": "Sample 3", "Symptoms": 46, "Density": 0.008}, {"Period": "Adulthood", "Sample": "Sample 3", "Symptoms": 47, "Density": 0.0076}, {"Period": "Adulthood", "Sample": "Sample 3", "Symptoms": 48, "Density": 0.007}, {"Period": "Adulthood", "Sample": "Sample 3", "Symptoms": 49, "Density": 0.0063}, {"Period": "Adulthood", "Sample": "Sample 3", "Symptoms": 50, "Density": 0.0055}, {"Period": "Adulthood", "Sample": "Sample 3", "Symptoms": 52, "Density": 0.0035}, {"Period": "Adulthood", "Sample": "Sample 3", "Symptoms": 54, "Density": 0.0018}, {"Period": "Adulthood", "Sample": "Sample 3", "Symptoms": 56, "Density": 0.0008}, {"Period": "Adulthood", "Sample": "Sample 3", "Symptoms": 58, "Density": 0.0003}, {"Period": "Adulthood", "Sample": "Sample 3", "Symptoms": 60, "Density": 0.0001}, {"Period": "Adulthood", "Sample": "Sample 3", "Symptoms": 62, "Density": 0}, {"Period": "Adulthood", "Sample": "Sample 3", "Symptoms": 64, "Density": 0}, {"Period": "Adulthood", "Sample": "Sample 3", "Symptoms": 66, "Density": 0}, {"Period": "Adulthood", "Sample": "Sample 3", "Symptoms": 68, "Density": 0}, {"Period": "Adulthood", "Sample": "Sample 3", "Symptoms": 70, "Density": 0}, {"Period": "Adulthood", "Sample": "Sample 3", "Symptoms": 72, "Density": 0}
  ]
},
"concat": [
  {
    "width": 395, "height": 240,
    "title": {"text": "A", "dx": -84.7},
    "data": {"name": "pop"},
    "mark": {"type": "bar"},
    "encoding": {
      "y": {"field": "Age", "type": "ordinal", "sort": "descending", "scale": {"paddingInner": 0.07, "paddingOuter": 0.1}, "axis": {"values": [32, 30, 28, 26, 24, 22, 20, 18], "title": "Age", "labelPadding": 3, "titlePadding": 24}},
      "x": {"field": "Participants", "type": "quantitative", "scale": {"domain": [-64.9, 33.9], "nice": false, "zero": false}, "axis": {"values": [-60, -40, -20, 0, 20], "labelExpr": "format(abs(datum.value), 'd')", "title": "Participants", "labelPadding": 2, "titlePadding": 3}},
      "x2": {"datum": 0},
      "color": {"field": "Sex", "type": "nominal", "scale": {"domain": ["Woman", "Man"], "range": ["#FF0000", "#0082C4"]},
        "legend": {"orient": "none", "legendX": 397, "legendY": 84.7, "title": "Sex", "titleFontSize": 22, "titlePadding": 12, "labelFontSize": 18, "labelOffset": 11, "symbolType": "square", "symbolSize": 324, "symbolStrokeWidth": 0, "rowPadding": 0}}
    }
  },
  {
    "width": 427, "height": 240,
    "title": {"text": "B", "dx": -87.5, "dy": 7},
    "data": {"name": "densB"},
    "layer": [
      {
        "transform": [{"filter": "datum.Period == 'Childhood'"}],
        "encoding": {
          "x": {"field": "Symptoms", "type": "quantitative", "scale": {"domain": [16.8, 73.2], "nice": false, "zero": false}, "axis": {"values": [20, 30, 40, 50, 60, 70], "title": "ADHD Symptoms", "labelPadding": 2, "titlePadding": 3}},
          "y": {"field": "Density", "type": "quantitative", "scale": {"domain": [-0.0032, 0.073], "range": [114, 0], "nice": false, "zero": false}, "axis": {"orient": "left", "values": [0, 0.02, 0.04, 0.06], "labelExpr": "datum.value == 0 ? '0' : replace(format(datum.value, '.2f'), '0.', '.')", "title": "Density", "titleY": 120, "labelPadding": 3, "titlePadding": 22}}
        },
        "layer": [
          {"transform": [{"filter": "datum.Sample == 'Sample 1'"}], "mark": {"type": "area", "color": "#E41A1C", "fillOpacity": 0.15, "interpolate": "monotone"}, "encoding": {"y2": {"datum": 0}}},
          {"transform": [{"filter": "datum.Sample == 'Sample 2'"}], "mark": {"type": "area", "color": "#377EB8", "fillOpacity": 0.15, "interpolate": "monotone"}, "encoding": {"y2": {"datum": 0}}},
          {"transform": [{"filter": "datum.Sample == 'Sample 3'"}], "mark": {"type": "area", "color": "#4DAF4A", "fillOpacity": 0.15, "interpolate": "monotone"}, "encoding": {"y2": {"datum": 0}}},
          {"transform": [{"filter": "datum.Sample == 'Sample 1'"}], "mark": {"type": "line", "color": "#E41A1C", "strokeWidth": 2, "interpolate": "monotone"}, "encoding": {}},
          {"transform": [{"filter": "datum.Sample == 'Sample 2'"}], "mark": {"type": "line", "color": "#377EB8", "strokeWidth": 2, "interpolate": "monotone"}, "encoding": {}},
          {"transform": [{"filter": "datum.Sample == 'Sample 3'"}], "mark": {"type": "line", "color": "#4DAF4A", "strokeWidth": 2, "interpolate": "monotone"}, "encoding": {}},
          {"data": {"values": [{"Sample": "Sample 1"}, {"Sample": "Sample 2"}, {"Sample": "Sample 3"}]},
           "mark": {"type": "square", "size": 400, "strokeWidth": 2, "opacity": 0},
           "encoding": {
             "fill": {"field": "Sample", "type": "nominal", "scale": {"domain": ["Sample 1", "Sample 2", "Sample 3"], "range": ["#FBDDDD", "#E1ECF4", "#E4F3E4"]},
               "legend": {"orient": "none", "legendX": 292, "legendY": -5.6, "title": "Sample", "titleFontSize": 22, "titlePadding": 6, "labelFontSize": 18, "labelOffset": 12, "symbolType": "square", "symbolSize": 400, "symbolStrokeWidth": 2, "symbolOpacity": 1, "symbolOffset": 6, "rowPadding": 4}},
             "stroke": {"field": "Sample", "type": "nominal", "scale": {"domain": ["Sample 1", "Sample 2", "Sample 3"], "range": ["#E41A1C", "#377EB8", "#4DAF4A"]},
               "legend": {"orient": "none", "legendX": 292, "legendY": -5.6, "title": "Sample", "titleFontSize": 22, "titlePadding": 6, "labelFontSize": 18, "labelOffset": 12, "symbolType": "square", "symbolSize": 400, "symbolStrokeWidth": 2, "symbolOpacity": 1, "symbolOffset": 6, "rowPadding": 4}}
           }}
        ]
      },
      {
        "transform": [{"filter": "datum.Period == 'Adulthood'"}],
        "encoding": {
          "x": {"field": "Symptoms", "type": "quantitative"},
          "y": {"field": "Density", "type": "quantitative", "scale": {"domain": [-0.0032, 0.073], "range": [240, 126], "nice": false, "zero": false}, "axis": {"orient": "left", "values": [0, 0.02, 0.04, 0.06], "labelExpr": "datum.value == 0 ? '0' : replace(format(datum.value, '.2f'), '0.', '.')", "title": null, "labelPadding": 3}}
        },
        "layer": [
          {"transform": [{"filter": "datum.Sample == 'Sample 1'"}], "mark": {"type": "area", "color": "#E41A1C", "fillOpacity": 0.15, "interpolate": "monotone"}, "encoding": {"y2": {"datum": 0}}},
          {"transform": [{"filter": "datum.Sample == 'Sample 2'"}], "mark": {"type": "area", "color": "#377EB8", "fillOpacity": 0.15, "interpolate": "monotone"}, "encoding": {"y2": {"datum": 0}}},
          {"transform": [{"filter": "datum.Sample == 'Sample 3'"}], "mark": {"type": "area", "color": "#4DAF4A", "fillOpacity": 0.15, "interpolate": "monotone"}, "encoding": {"y2": {"datum": 0}}},
          {"transform": [{"filter": "datum.Sample == 'Sample 1'"}], "mark": {"type": "line", "color": "#E41A1C", "strokeWidth": 2, "interpolate": "monotone"}, "encoding": {}},
          {"transform": [{"filter": "datum.Sample == 'Sample 2'"}], "mark": {"type": "line", "color": "#377EB8", "strokeWidth": 2, "interpolate": "monotone"}, "encoding": {}},
          {"transform": [{"filter": "datum.Sample == 'Sample 3'"}], "mark": {"type": "line", "color": "#4DAF4A", "strokeWidth": 2, "interpolate": "monotone"}, "encoding": {}}
        ]
      },
      {
        "transform": [{"filter": "datum.Period == 'Childhood'"}],
        "mark": {"type": "line", "opacity": 0},
        "encoding": {
          "x": {"field": "Symptoms", "type": "quantitative"},
          "y": {"field": "Density", "type": "quantitative", "scale": {"domain": [-0.0032, 0.073], "range": [114, 0], "nice": false, "zero": false}, "axis": {"orient": "right", "values": [0.0349], "labelExpr": "'(cBAARS-IV)'", "domain": false, "ticks": false, "tickSize": 0, "labelAngle": 90, "labelAlign": "center", "labelBaseline": "bottom", "labelFontSize": 16, "labelColor": "#1A1A1A", "labelPadding": 23.6, "title": "Childhood", "titleFontSize": 22, "titleAngle": 90, "titlePadding": 13}}
        }
      },
      {
        "transform": [{"filter": "datum.Period == 'Adulthood'"}],
        "mark": {"type": "line", "opacity": 0},
        "encoding": {
          "x": {"field": "Symptoms", "type": "quantitative"},
          "y": {"field": "Density", "type": "quantitative", "scale": {"domain": [-0.0032, 0.073], "range": [240, 126], "nice": false, "zero": false}, "axis": {"orient": "right", "values": [0.0349], "labelExpr": "'(aBAARS-IV)'", "domain": false, "ticks": false, "tickSize": 0, "labelAngle": 90, "labelAlign": "center", "labelBaseline": "bottom", "labelFontSize": 16, "labelColor": "#1A1A1A", "labelPadding": 23.6, "title": "Adulthood", "titleFontSize": 22, "titleAngle": 90, "titlePadding": 13}}
        }
      }
    ],
    "resolve": {"scale": {"y": "independent"}, "axis": {"y": "independent"}}
  },
  {
    "width": 430, "height": 240,
    "title": {"text": "C", "dx": -82, "dy": 6},
    "layer": [
      {
        "data": {"name": "histC"},
        "mark": {"type": "bar", "fill": "#BEBEBE", "stroke": "#000000", "strokeWidth": 1.8},
        "encoding": {
          "x": {"field": "BinStart", "type": "quantitative", "scale": {"domain": [16.5, 73.5], "nice": false, "zero": false}, "axis": {"values": [20, 30, 40, 50, 60, 70], "title": "Childhood Symptoms (cBAARS-IV)", "labelPadding": 2, "titlePadding": 3}},
          "x2": {"field": "BinEnd"},
          "y": {"field": "Count", "type": "quantitative", "scale": {"domain": [-2.9, 100.3], "nice": false, "zero": false}, "axis": {"orient": "left", "values": [0, 25, 50, 75, 100], "title": "Frequency", "labelPadding": 3, "titlePadding": 15}},
          "y2": {"datum": 0}
        }
      },
      {
        "data": {"name": "densC"},
        "encoding": {
          "x": {"field": "Symptoms", "type": "quantitative"},
          "y": {"field": "Density", "type": "quantitative", "scale": {"domain": [-0.00232, 0.08024], "nice": false, "zero": false}, "axis": {"orient": "right", "values": [0, 0.02, 0.04, 0.06, 0.08], "labelExpr": "datum.value == 0 ? '0' : replace(format(datum.value, '.2f'), '0.', '.')", "title": "Density", "titleAngle": 90, "labelPadding": 3, "titlePadding": 15}}
        },
        "layer": [
          {"transform": [{"filter": "datum.Curve == 'Solid'"}], "mark": {"type": "area", "filled": false, "color": "#000000", "strokeWidth": 2.2, "interpolate": "monotone"}, "encoding": {"y2": {"datum": 0}}},
          {"transform": [{"filter": "datum.Curve == 'Dashed'"}], "mark": {"type": "line", "color": "#000000", "strokeWidth": 2, "strokeDash": [8, 4], "interpolate": "monotone"}, "encoding": {}}
        ]
      },
      {
        "data": {"values": [{"Cutoff": 49}]},
        "mark": {"type": "rule", "color": "#FF0000", "strokeWidth": 2.7, "strokeDash": [13, 5]},
        "encoding": {"x": {"field": "Cutoff", "type": "quantitative"}}
      }
    ],
    "resolve": {"scale": {"y": "independent"}, "axis": {"y": "independent"}}
  },
  {
    "width": 428, "height": 240,
    "title": {"text": "D", "dx": -87.7, "dy": 6},
    "layer": [
      {
        "data": {"name": "histD"},
        "mark": {"type": "bar", "fill": "#BEBEBE", "stroke": "#000000", "strokeWidth": 1.8},
        "encoding": {
          "x": {"field": "BinStart", "type": "quantitative", "scale": {"domain": [16.8, 73.2], "nice": false, "zero": false}, "axis": {"values": [20, 30, 40, 50, 60, 70], "title": "Adult Symptoms (aBAARS-IV)", "labelPadding": 2, "titlePadding": 3}},
          "x2": {"field": "BinEnd"},
          "y": {"field": "Count", "type": "quantitative", "scale": {"domain": [-3.7, 120.8], "nice": false, "zero": false}, "axis": {"orient": "left", "values": [0, 30, 60, 90, 120], "title": "Frequency", "labelPadding": 3, "titlePadding": 15}},
          "y2": {"datum": 0}
        }
      },
      {
        "data": {"name": "densD"},
        "encoding": {
          "x": {"field": "Symptoms", "type": "quantitative"},
          "y": {"field": "Density", "type": "quantitative", "scale": {"domain": [-0.0030833, 0.1006667], "nice": false, "zero": false}, "axis": {"orient": "right", "values": [0, 0.02, 0.04, 0.06, 0.08, 0.1], "labelExpr": "datum.value == 0 ? '0' : replace(format(datum.value, '.2f'), '0.', '.')", "title": "Density", "titleAngle": 90, "labelPadding": 3, "titlePadding": 21}}
        },
        "layer": [
          {"transform": [{"filter": "datum.Curve == 'Solid'"}], "mark": {"type": "area", "filled": false, "color": "#000000", "strokeWidth": 2.2, "interpolate": "monotone"}, "encoding": {"y2": {"datum": 0}}},
          {"transform": [{"filter": "datum.Curve == 'Dashed'"}], "mark": {"type": "line", "color": "#000000", "strokeWidth": 2, "strokeDash": [8, 4], "interpolate": "monotone"}, "encoding": {}}
        ]
      },
      {
        "data": {"values": [{"Cutoff": 43}]},
        "mark": {"type": "rule", "color": "#FF0000", "strokeWidth": 2.7, "strokeDash": [13, 5]},
        "encoding": {"x": {"field": "Cutoff", "type": "quantitative"}}
      }
    ],
    "resolve": {"scale": {"y": "independent"}, "axis": {"y": "independent"}}
  }
]
}
